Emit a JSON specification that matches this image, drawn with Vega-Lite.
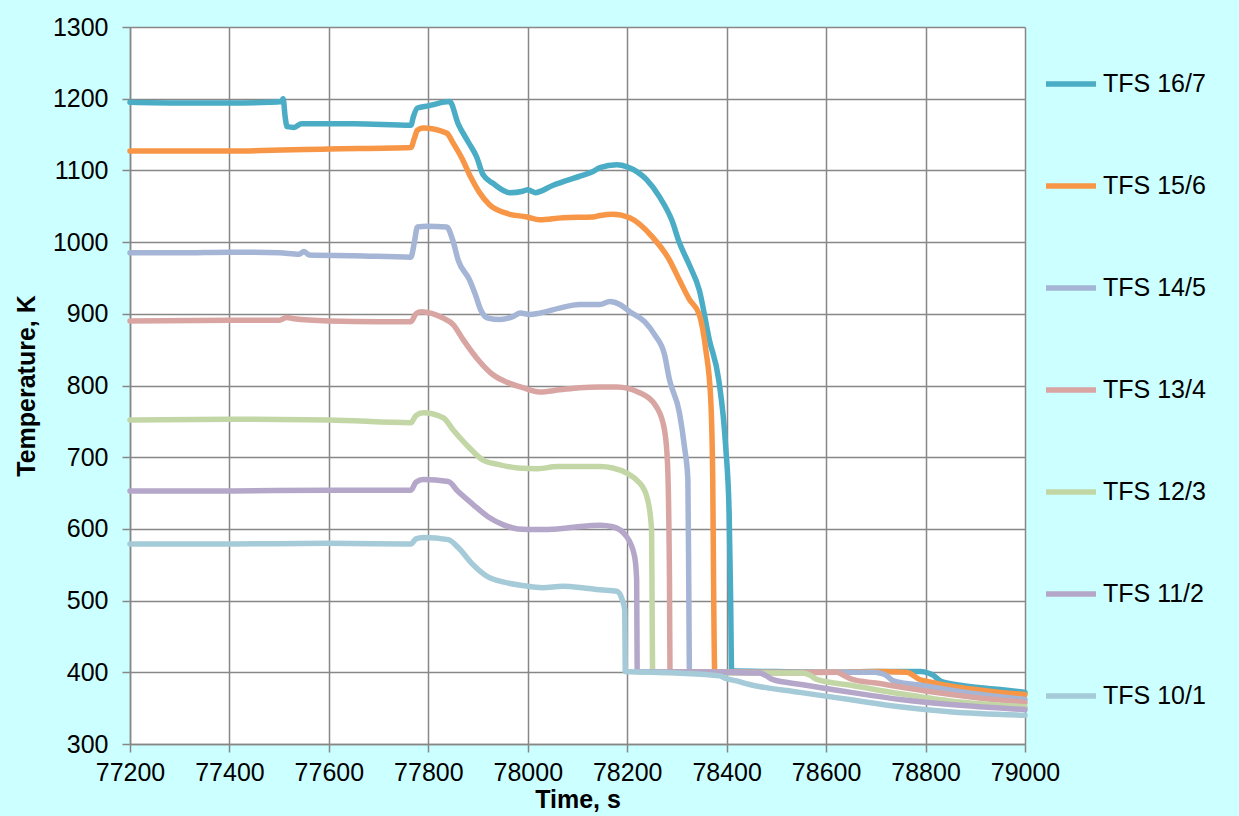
{
"$schema": "https://vega.github.io/schema/vega-lite/v6.json",
"width": 895, "height": 717,
"autosize": {"type": "none"},
"padding": {"left": 130, "top": 27, "right": 214, "bottom": 72},
"background": "#ccffff",
"config": {"view": {"fill": "white", "stroke": null}, "font": "Liberation Sans"},
"data": {"values": [
{"s":"TFS 16/7","t":77200,"T":1195},{"s":"TFS 16/7","t":77300,"T":1194},{"s":"TFS 16/7","t":77400,"T":1194},{"s":"TFS 16/7","t":77480,"T":1195},{"s":"TFS 16/7","t":77505,"T":1196},{"s":"TFS 16/7","t":77508,"T":1200},{"s":"TFS 16/7","t":77512,"T":1175},{"s":"TFS 16/7","t":77516,"T":1161},{"s":"TFS 16/7","t":77530,"T":1160},{"s":"TFS 16/7","t":77545,"T":1165},{"s":"TFS 16/7","t":77650,"T":1165},{"s":"TFS 16/7","t":77765,"T":1163},{"s":"TFS 16/7","t":77770,"T":1175},{"s":"TFS 16/7","t":77778,"T":1187},{"s":"TFS 16/7","t":77800,"T":1190},{"s":"TFS 16/7","t":77843,"T":1196},{"s":"TFS 16/7","t":77860,"T":1165},{"s":"TFS 16/7","t":77880,"T":1140},{"s":"TFS 16/7","t":77897,"T":1119},{"s":"TFS 16/7","t":77910,"T":1094},{"s":"TFS 16/7","t":77930,"T":1082},{"s":"TFS 16/7","t":77964,"T":1069},{"s":"TFS 16/7","t":77990,"T":1071},{"s":"TFS 16/7","t":78000,"T":1073},{"s":"TFS 16/7","t":78015,"T":1069},{"s":"TFS 16/7","t":78050,"T":1079},{"s":"TFS 16/7","t":78105,"T":1092},{"s":"TFS 16/7","t":78130,"T":1098},{"s":"TFS 16/7","t":78145,"T":1104},{"s":"TFS 16/7","t":78179,"T":1108},{"s":"TFS 16/7","t":78200,"T":1105},{"s":"TFS 16/7","t":78239,"T":1087},{"s":"TFS 16/7","t":78265,"T":1063},{"s":"TFS 16/7","t":78290,"T":1030},{"s":"TFS 16/7","t":78305,"T":999},{"s":"TFS 16/7","t":78325,"T":968},{"s":"TFS 16/7","t":78345,"T":933},{"s":"TFS 16/7","t":78365,"T":864},{"s":"TFS 16/7","t":78384,"T":808},{"s":"TFS 16/7","t":78398,"T":715},{"s":"TFS 16/7","t":78405,"T":622},{"s":"TFS 16/7","t":78408,"T":500},{"s":"TFS 16/7","t":78410,"T":402},{"s":"TFS 16/7","t":78500,"T":401},{"s":"TFS 16/7","t":78600,"T":400},{"s":"TFS 16/7","t":78700,"T":401},{"s":"TFS 16/7","t":78790,"T":401},{"s":"TFS 16/7","t":78805,"T":399},{"s":"TFS 16/7","t":78815,"T":396},{"s":"TFS 16/7","t":78830,"T":388},{"s":"TFS 16/7","t":78870,"T":382},{"s":"TFS 16/7","t":78950,"T":376},{"s":"TFS 16/7","t":79000,"T":372},
{"s":"TFS 15/6","t":77200,"T":1127},{"s":"TFS 15/6","t":77400,"T":1127},{"s":"TFS 15/6","t":77600,"T":1130},{"s":"TFS 15/6","t":77765,"T":1132},{"s":"TFS 15/6","t":77772,"T":1145},{"s":"TFS 15/6","t":77778,"T":1156},{"s":"TFS 15/6","t":77789,"T":1159},{"s":"TFS 15/6","t":77837,"T":1152},{"s":"TFS 15/6","t":77850,"T":1138},{"s":"TFS 15/6","t":77869,"T":1115},{"s":"TFS 15/6","t":77885,"T":1091},{"s":"TFS 15/6","t":77903,"T":1069},{"s":"TFS 15/6","t":77923,"T":1052},{"s":"TFS 15/6","t":77958,"T":1040},{"s":"TFS 15/6","t":77998,"T":1035},{"s":"TFS 15/6","t":78024,"T":1031},{"s":"TFS 15/6","t":78070,"T":1034},{"s":"TFS 15/6","t":78131,"T":1035},{"s":"TFS 15/6","t":78145,"T":1037},{"s":"TFS 15/6","t":78171,"T":1039},{"s":"TFS 15/6","t":78205,"T":1034},{"s":"TFS 15/6","t":78251,"T":1007},{"s":"TFS 15/6","t":78285,"T":975},{"s":"TFS 15/6","t":78305,"T":947},{"s":"TFS 15/6","t":78325,"T":920},{"s":"TFS 15/6","t":78345,"T":899},{"s":"TFS 15/6","t":78358,"T":850},{"s":"TFS 15/6","t":78368,"T":780},{"s":"TFS 15/6","t":78372,"T":669},{"s":"TFS 15/6","t":78374,"T":500},{"s":"TFS 15/6","t":78376,"T":401},{"s":"TFS 15/6","t":78500,"T":400},{"s":"TFS 15/6","t":78600,"T":400},{"s":"TFS 15/6","t":78700,"T":401},{"s":"TFS 15/6","t":78762,"T":400},{"s":"TFS 15/6","t":78788,"T":390},{"s":"TFS 15/6","t":78814,"T":386},{"s":"TFS 15/6","t":78850,"T":381},{"s":"TFS 15/6","t":78900,"T":376},{"s":"TFS 15/6","t":78950,"T":372},{"s":"TFS 15/6","t":79000,"T":369},
{"s":"TFS 14/5","t":77200,"T":985},{"s":"TFS 14/5","t":77300,"T":985},{"s":"TFS 14/5","t":77400,"T":986},{"s":"TFS 14/5","t":77500,"T":985},{"s":"TFS 14/5","t":77540,"T":983},{"s":"TFS 14/5","t":77550,"T":987},{"s":"TFS 14/5","t":77560,"T":982},{"s":"TFS 14/5","t":77650,"T":981},{"s":"TFS 14/5","t":77765,"T":979},{"s":"TFS 14/5","t":77772,"T":1000},{"s":"TFS 14/5","t":77778,"T":1021},{"s":"TFS 14/5","t":77797,"T":1022},{"s":"TFS 14/5","t":77837,"T":1021},{"s":"TFS 14/5","t":77849,"T":1003},{"s":"TFS 14/5","t":77860,"T":975},{"s":"TFS 14/5","t":77883,"T":947},{"s":"TFS 14/5","t":77895,"T":926},{"s":"TFS 14/5","t":77905,"T":906},{"s":"TFS 14/5","t":77920,"T":894},{"s":"TFS 14/5","t":77944,"T":892},{"s":"TFS 14/5","t":77970,"T":896},{"s":"TFS 14/5","t":77985,"T":901},{"s":"TFS 14/5","t":78004,"T":899},{"s":"TFS 14/5","t":78024,"T":901},{"s":"TFS 14/5","t":78064,"T":908},{"s":"TFS 14/5","t":78104,"T":913},{"s":"TFS 14/5","t":78145,"T":913},{"s":"TFS 14/5","t":78165,"T":917},{"s":"TFS 14/5","t":78185,"T":913},{"s":"TFS 14/5","t":78205,"T":903},{"s":"TFS 14/5","t":78235,"T":889},{"s":"TFS 14/5","t":78255,"T":871},{"s":"TFS 14/5","t":78275,"T":843},{"s":"TFS 14/5","t":78285,"T":808},{"s":"TFS 14/5","t":78305,"T":762},{"s":"TFS 14/5","t":78315,"T":715},{"s":"TFS 14/5","t":78322,"T":669},{"s":"TFS 14/5","t":78324,"T":500},{"s":"TFS 14/5","t":78325,"T":401},{"s":"TFS 14/5","t":78500,"T":400},{"s":"TFS 14/5","t":78600,"T":400},{"s":"TFS 14/5","t":78700,"T":400},{"s":"TFS 14/5","t":78707,"T":399},{"s":"TFS 14/5","t":78720,"T":396},{"s":"TFS 14/5","t":78735,"T":388},{"s":"TFS 14/5","t":78800,"T":381},{"s":"TFS 14/5","t":78900,"T":370},{"s":"TFS 14/5","t":79000,"T":362},
{"s":"TFS 13/4","t":77200,"T":890},{"s":"TFS 13/4","t":77400,"T":891},{"s":"TFS 13/4","t":77500,"T":891},{"s":"TFS 13/4","t":77515,"T":895},{"s":"TFS 13/4","t":77530,"T":893},{"s":"TFS 13/4","t":77600,"T":890},{"s":"TFS 13/4","t":77700,"T":889},{"s":"TFS 13/4","t":77765,"T":889},{"s":"TFS 13/4","t":77775,"T":900},{"s":"TFS 13/4","t":77785,"T":903},{"s":"TFS 13/4","t":77830,"T":894},{"s":"TFS 13/4","t":77850,"T":885},{"s":"TFS 13/4","t":77870,"T":864},{"s":"TFS 13/4","t":77900,"T":836},{"s":"TFS 13/4","t":77930,"T":815},{"s":"TFS 13/4","t":77960,"T":804},{"s":"TFS 13/4","t":77990,"T":797},{"s":"TFS 13/4","t":78024,"T":791},{"s":"TFS 13/4","t":78064,"T":794},{"s":"TFS 13/4","t":78104,"T":797},{"s":"TFS 13/4","t":78145,"T":798},{"s":"TFS 13/4","t":78179,"T":798},{"s":"TFS 13/4","t":78225,"T":790},{"s":"TFS 13/4","t":78259,"T":770},{"s":"TFS 13/4","t":78275,"T":738},{"s":"TFS 13/4","t":78281,"T":692},{"s":"TFS 13/4","t":78285,"T":529},{"s":"TFS 13/4","t":78286,"T":401},{"s":"TFS 13/4","t":78400,"T":400},{"s":"TFS 13/4","t":78500,"T":399},{"s":"TFS 13/4","t":78621,"T":400},{"s":"TFS 13/4","t":78635,"T":396},{"s":"TFS 13/4","t":78653,"T":390},{"s":"TFS 13/4","t":78700,"T":385},{"s":"TFS 13/4","t":78800,"T":374},{"s":"TFS 13/4","t":78900,"T":365},{"s":"TFS 13/4","t":79000,"T":358},
{"s":"TFS 12/3","t":77200,"T":752},{"s":"TFS 12/3","t":77400,"T":753},{"s":"TFS 12/3","t":77600,"T":752},{"s":"TFS 12/3","t":77765,"T":748},{"s":"TFS 12/3","t":77775,"T":758},{"s":"TFS 12/3","t":77790,"T":762},{"s":"TFS 12/3","t":77830,"T":755},{"s":"TFS 12/3","t":77850,"T":738},{"s":"TFS 12/3","t":77880,"T":715},{"s":"TFS 12/3","t":77910,"T":696},{"s":"TFS 12/3","t":77940,"T":690},{"s":"TFS 12/3","t":77980,"T":685},{"s":"TFS 12/3","t":78020,"T":684},{"s":"TFS 12/3","t":78060,"T":687},{"s":"TFS 12/3","t":78145,"T":687},{"s":"TFS 12/3","t":78171,"T":685},{"s":"TFS 12/3","t":78225,"T":664},{"s":"TFS 12/3","t":78241,"T":641},{"s":"TFS 12/3","t":78249,"T":599},{"s":"TFS 12/3","t":78250,"T":500},{"s":"TFS 12/3","t":78251,"T":400},{"s":"TFS 12/3","t":78400,"T":399},{"s":"TFS 12/3","t":78553,"T":399},{"s":"TFS 12/3","t":78570,"T":395},{"s":"TFS 12/3","t":78581,"T":390},{"s":"TFS 12/3","t":78650,"T":382},{"s":"TFS 12/3","t":78750,"T":370},{"s":"TFS 12/3","t":78850,"T":360},{"s":"TFS 12/3","t":79000,"T":352},
{"s":"TFS 11/2","t":77200,"T":653},{"s":"TFS 11/2","t":77400,"T":653},{"s":"TFS 11/2","t":77600,"T":654},{"s":"TFS 11/2","t":77765,"T":654},{"s":"TFS 11/2","t":77775,"T":665},{"s":"TFS 11/2","t":77790,"T":669},{"s":"TFS 11/2","t":77840,"T":666},{"s":"TFS 11/2","t":77860,"T":652},{"s":"TFS 11/2","t":77890,"T":634},{"s":"TFS 11/2","t":77920,"T":617},{"s":"TFS 11/2","t":77950,"T":606},{"s":"TFS 11/2","t":77980,"T":600},{"s":"TFS 11/2","t":78020,"T":599},{"s":"TFS 11/2","t":78060,"T":600},{"s":"TFS 11/2","t":78100,"T":603},{"s":"TFS 11/2","t":78145,"T":605},{"s":"TFS 11/2","t":78171,"T":603},{"s":"TFS 11/2","t":78199,"T":589},{"s":"TFS 11/2","t":78215,"T":561},{"s":"TFS 11/2","t":78219,"T":529},{"s":"TFS 11/2","t":78220,"T":401},{"s":"TFS 11/2","t":78400,"T":400},{"s":"TFS 11/2","t":78466,"T":399},{"s":"TFS 11/2","t":78480,"T":395},{"s":"TFS 11/2","t":78492,"T":390},{"s":"TFS 11/2","t":78550,"T":383},{"s":"TFS 11/2","t":78650,"T":372},{"s":"TFS 11/2","t":78750,"T":362},{"s":"TFS 11/2","t":78850,"T":355},{"s":"TFS 11/2","t":79000,"T":348},
{"s":"TFS 10/1","t":77200,"T":579},{"s":"TFS 10/1","t":77400,"T":579},{"s":"TFS 10/1","t":77600,"T":580},{"s":"TFS 10/1","t":77765,"T":579},{"s":"TFS 10/1","t":77775,"T":586},{"s":"TFS 10/1","t":77790,"T":588},{"s":"TFS 10/1","t":77840,"T":585},{"s":"TFS 10/1","t":77860,"T":574},{"s":"TFS 10/1","t":77890,"T":550},{"s":"TFS 10/1","t":77920,"T":533},{"s":"TFS 10/1","t":77950,"T":526},{"s":"TFS 10/1","t":77990,"T":521},{"s":"TFS 10/1","t":78030,"T":518},{"s":"TFS 10/1","t":78070,"T":520},{"s":"TFS 10/1","t":78110,"T":518},{"s":"TFS 10/1","t":78145,"T":515},{"s":"TFS 10/1","t":78179,"T":513},{"s":"TFS 10/1","t":78190,"T":501},{"s":"TFS 10/1","t":78195,"T":487},{"s":"TFS 10/1","t":78196,"T":401},{"s":"TFS 10/1","t":78300,"T":399},{"s":"TFS 10/1","t":78386,"T":395},{"s":"TFS 10/1","t":78400,"T":391},{"s":"TFS 10/1","t":78420,"T":388},{"s":"TFS 10/1","t":78446,"T":383},{"s":"TFS 10/1","t":78547,"T":372},{"s":"TFS 10/1","t":78647,"T":362},{"s":"TFS 10/1","t":78748,"T":352},{"s":"TFS 10/1","t":78848,"T":345},{"s":"TFS 10/1","t":79000,"T":340}
]},
"mark": {"type": "line", "strokeWidth": 5.5, "strokeCap": "round", "strokeJoin": "round", "interpolate": "monotone"},
"encoding": {
"x": {"field": "t", "type": "quantitative",
 "scale": {"domain": [77200, 79000], "nice": false, "zero": false},
 "axis": {"values": [77200,77400,77600,77800,78000,78200,78400,78600,78800,79000], "format": "d", "title": "Time, s",
  "grid": true, "gridColor": "#878787", "gridWidth": 1.5, "domainColor": "#878787", "domainWidth": 1.5,
  "tickColor": "#878787", "tickWidth": 1.5, "tickSize": 8, "labelFontSize": 25, "labelColor": "#000000",
  "labelPadding": 8, "labelFlush": false, "titleFontSize": 25, "titleFontWeight": "bold", "titleColor": "#000000", "titlePadding": 2}},
"y": {"field": "T", "type": "quantitative",
 "scale": {"domain": [300, 1300], "nice": false, "zero": false},
 "axis": {"values": [300,400,500,600,700,800,900,1000,1100,1200,1300], "format": "d", "title": "Temperature, K",
  "grid": true, "gridColor": "#878787", "gridWidth": 1.5, "domainColor": "#878787", "domainWidth": 1.5,
  "tickColor": "#878787", "tickWidth": 1.5, "tickSize": 8, "labelFontSize": 25, "labelColor": "#000000",
  "labelPadding": 14, "titleFontSize": 25, "titleFontWeight": "bold", "titleColor": "#000000", "titlePadding": 13}},
"color": {"field": "s", "type": "nominal",
 "scale": {"domain": ["TFS 16/7","TFS 15/6","TFS 14/5","TFS 13/4","TFS 12/3","TFS 11/2","TFS 10/1"],
  "range": ["#4bacc6","#f79646","#a5b5d6","#d9a5a2","#c3d7a6","#b4a7c9","#a6cbd8"]},
 "legend": {"orient": "none", "legendX": 913, "legendY": 29, "title": null, "symbolType": "stroke",
  "symbolSize": 2500, "symbolStrokeWidth": 5.5, "labelFontSize": 25, "labelColor": "#000000",
  "rowPadding": 61, "labelOffset": 4, "padding": 0}}
}
}
